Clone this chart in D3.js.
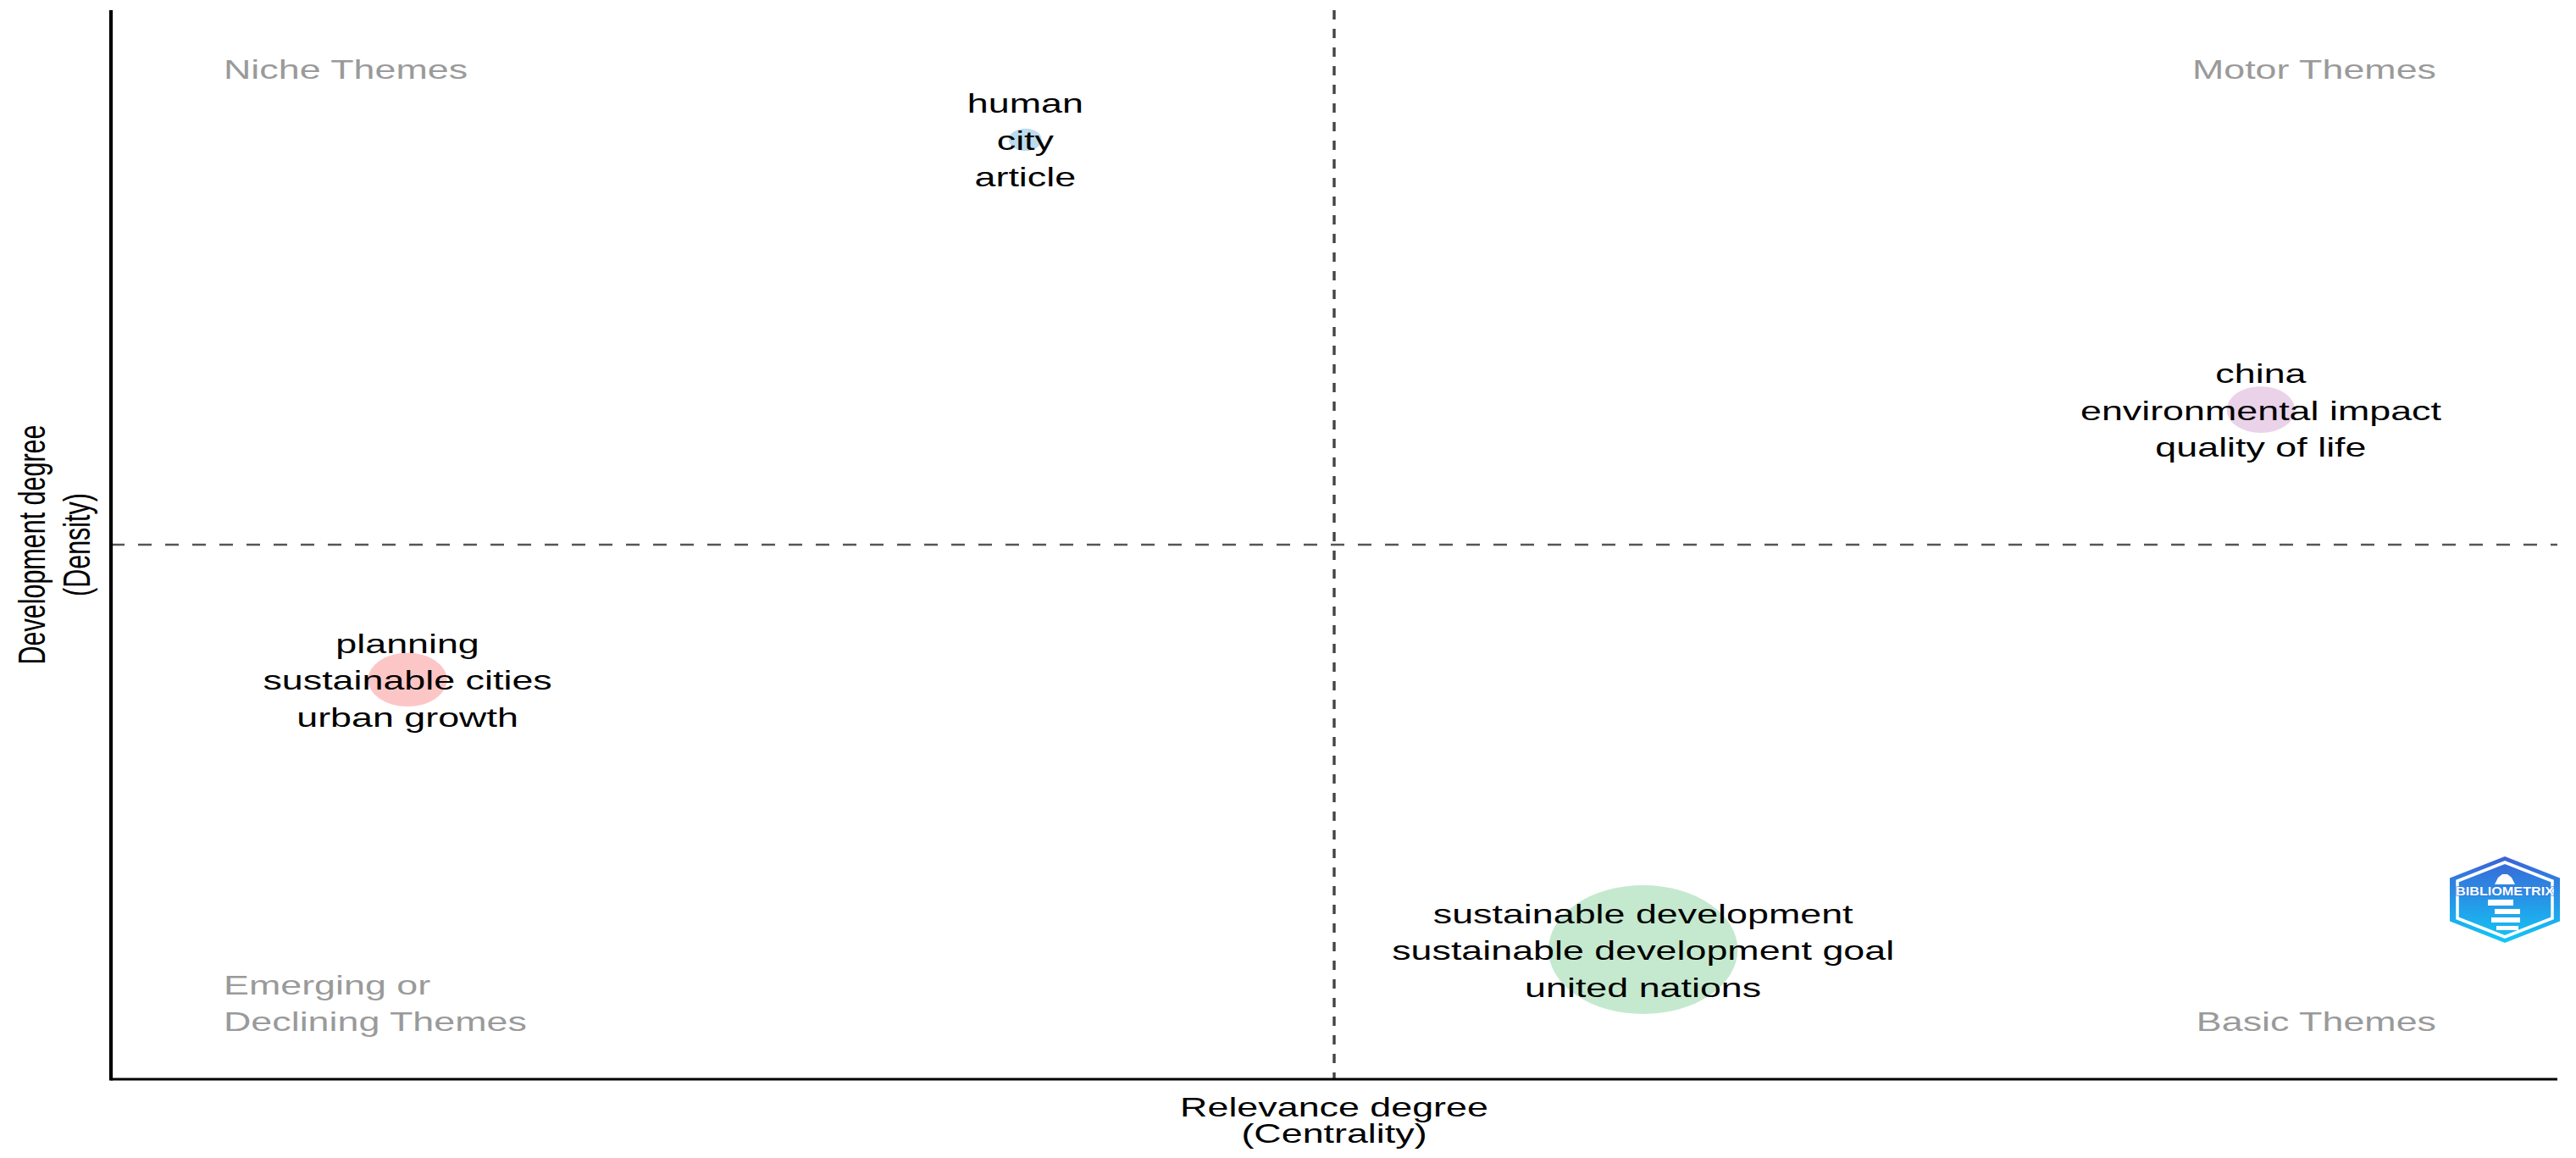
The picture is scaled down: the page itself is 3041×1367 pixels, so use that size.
<!DOCTYPE html>
<html>
<head>
<meta charset="utf-8">
<script src="https://cdn.jsdelivr.net/npm/d3@7"></script>
<style>
  html, body { margin: 0; padding: 0; background: #fff; }
  text { font-family: "Liberation Sans", Arial, sans-serif; }
</style>
</head>
<body>
<div id="chart-area"></div>
<script>
// thematic map data (rank centrality / rank density per cluster)
var clusterWords = [
    ["human", "city", "article"],
    ["planning", "sustainable cities", "urban growth"],
    ["china", "environmental impact", "quality of life"],
    ["sustainable development", "sustainable development goal", "united nations"]
];
var centrality = [2, 1, 4, 3];
var density = [4, 2, 3, 1];
var freq = [7, 40, 30, 230];

var quadrantNames = ["Niche Themes", "Motor Themes", "Emerging or\nDeclining Themes", "Basic Themes"];
var axisTitles = {x: ["Relevance degree", "(Centrality)"], y: ["Development degree", "(Density)"]};

var palette = ["#bddbee", "#fdc6c6", "#ead2e9", "#c5e9cf"];

// the picture is stretched horizontally, so glyphs and bubbles are too
var sx = 1.47;
var fontSize = 30.5;

var W = 3041, H = 1367;
var panel = {left: 131, right: 3019, top: 12, bottom: 1274};

var svg = d3.select("#chart-area").append("svg")
    .attr("width", W)
    .attr("height", H);

var x = d3.scaleLinear().domain([0.52, 4.48]).range([panel.left, panel.right]);
var y = d3.scaleLinear().domain([0.52, 4.48]).range([panel.bottom, panel.top]);
var r = d3.scaleSqrt().domain([0, d3.max(freq)]).range([0, 76]);

var data = clusterWords.map(function(w, i) {
    return {words: w, cx: centrality[i], dy: density[i], freq: freq[i], color: palette[i]};
});

// mean lines
var meanX = d3.mean(centrality), meanY = d3.mean(density);
svg.append("line")
    .attr("x1", x(meanX)).attr("x2", x(meanX))
    .attr("y1", panel.top).attr("y2", panel.bottom)
    .style("stroke", "#444").style("stroke-width", 3.4)
    .style("stroke-dasharray", "11,11");
svg.append("line")
    .attr("x1", panel.left).attr("x2", panel.right)
    .attr("y1", y(meanY)).attr("y2", y(meanY))
    .style("stroke", "#555").style("stroke-width", 2.4)
    .style("stroke-dasharray", "16,16");

// axis lines
svg.append("line")
    .attr("x1", panel.left).attr("x2", panel.left)
    .attr("y1", panel.top).attr("y2", panel.bottom + 1.5)
    .style("stroke", "#000").style("stroke-width", 4.2);
svg.append("line")
    .attr("x1", panel.left).attr("x2", panel.right)
    .attr("y1", panel.bottom).attr("y2", panel.bottom)
    .style("stroke", "#000").style("stroke-width", 2.9);

// bubbles
svg.append("g").selectAll("ellipse")
    .data(data).enter()
    .append("ellipse")
    .attr("cx", function(d) { return x(d.cx); })
    .attr("cy", function(d) { return y(d.dy); })
    .attr("rx", function(d) { return r(d.freq) * sx; })
    .attr("ry", function(d) { return r(d.freq); })
    .style("fill", function(d) { return d.color; });

// cluster labels
var lineGap = 43.5;
data.forEach(function(d) {
    d.words.forEach(function(w, i) {
        svg.append("text")
            .attr("transform", "translate(" + x(d.cx) + "," + (y(d.dy) + (i - 1) * lineGap + 12) + ") scale(" + sx + ",1)")
            .style("text-anchor", "middle")
            .style("font-size", fontSize + "px")
            .style("fill", "#000")
            .text(w);
    });
});

// quadrant names
function stretchedText(tx, ty, txt, anchor, color) {
    return svg.append("text")
        .attr("transform", "translate(" + tx + "," + ty + ") scale(" + sx + ",1)")
        .style("text-anchor", anchor)
        .style("font-size", fontSize + "px")
        .style("fill", color)
        .text(txt);
}
var qLeft = panel.left + 133, qRight = panel.right - 143;
stretchedText(qLeft, 93, quadrantNames[0], "start", "#9a9a9a");
stretchedText(qRight, 93, quadrantNames[1], "end", "#9a9a9a");
quadrantNames[2].split("\n").forEach(function(t, i) {
    stretchedText(qLeft, 1174 + i * 43, t, "start", "#9a9a9a");
});
stretchedText(qRight, 1217, quadrantNames[3], "end", "#9a9a9a");

// axis titles
var midX = (panel.left + panel.right) / 2, midY = (panel.top + panel.bottom) / 2;
axisTitles.x.forEach(function(t, i) {
    stretchedText(midX, 1318 + i * 31, t, "middle", "#000");
});
[53, 106].forEach(function(bx, i) {
    svg.append("text")
        .attr("transform", "translate(" + bx + "," + midY + ") scale(" + sx + ",1) rotate(-90)")
        .style("text-anchor", "middle")
        .style("font-size", fontSize + "px")
        .style("fill", "#000")
        .text(axisTitles.y[i]);
});

// bibliometrix logo
var logo = svg.append("g").attr("transform", "translate(2957,1062)");
var grad = svg.append("defs").append("linearGradient")
    .attr("id", "logoGrad").attr("x1", 0).attr("y1", 0).attr("x2", 0).attr("y2", 1);
grad.append("stop").attr("offset", "0%").attr("stop-color", "#3b63d6");
grad.append("stop").attr("offset", "100%").attr("stop-color", "#12c8f6");
function hex(hw, hh) {
    return [[0, -hh], [hw, -hh / 2], [hw, hh / 2], [0, hh], [-hw, hh / 2], [-hw, -hh / 2]];
}
logo.append("path")
    .attr("d", d3.line()(hex(65, 51)) + "Z")
    .style("fill", "url(#logoGrad)");
logo.append("path")
    .attr("d", d3.line()(hex(56, 44)) + "Z")
    .style("fill", "none").style("stroke", "#fff").style("stroke-width", 3.5);
logo.append("path")
    .attr("d", "M-8,-26 L-3,-30 L3,-30 L8,-26 L12,-18 L-12,-18 Z")
    .style("fill", "#fff");
[[-20, 0, 30, 7], [-12, 11, 30, 6], [-16, 21, 34, 6], [-10, 31, 26, 5]].forEach(function(b) {
    logo.append("rect")
        .attr("x", b[0]).attr("y", b[1]).attr("width", b[2]).attr("height", b[3])
        .style("fill", "#fff");
});
logo.append("text")
    .attr("x", 0).attr("y", -5)
    .attr("textLength", 116)
    .attr("lengthAdjust", "spacingAndGlyphs")
    .style("text-anchor", "middle")
    .style("font-size", "15px")
    .style("font-weight", "bold")
    .style("fill", "#fff")
    .style("stroke", "#2a6fd8").style("stroke-width", 1)
    .style("paint-order", "stroke")
    .text("BIBLIOMETRIX");
</script>
</body>
</html>
